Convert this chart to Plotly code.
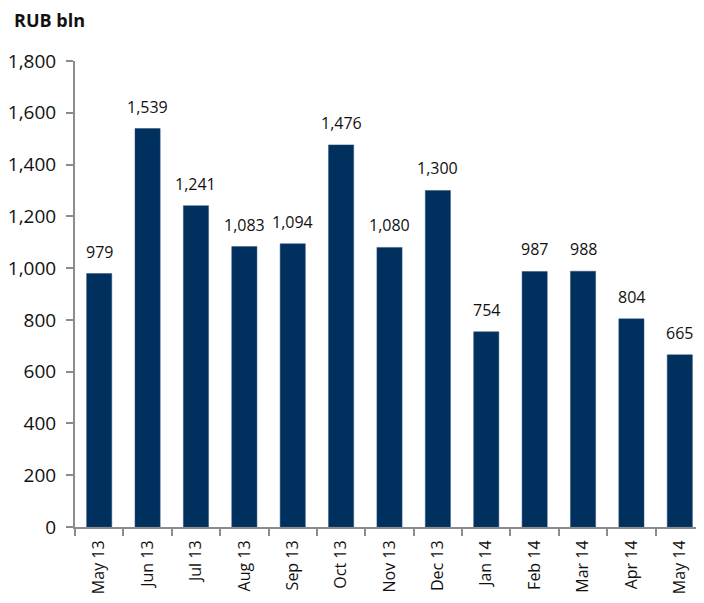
import plotly.graph_objects as go

categories = ["May 13", "Jun 13", "Jul 13", "Aug 13", "Sep 13", "Oct 13", "Nov 13",
              "Dec 13", "Jan 14", "Feb 14", "Mar 14", "Apr 14", "May 14"]
values = [979, 1539, 1241, 1083, 1094, 1476, 1080, 1300, 754, 987, 988, 804, 665]
y_ticks = [0, 200, 400, 600, 800, 1000, 1200, 1400, 1600, 1800]
y_tick_labels = ["0", "200", "400", "600", "800", "1,000", "1,200", "1,400", "1,600", "1,800"]
data_labels = [f"{v:,}" for v in values]

PLOT_W = 629
PLOT_H = 466

fig = go.Figure(go.Bar(
    x=categories, y=values,
    marker=dict(color="#00305e", line=dict(color="#2a4f78", width=0.5)),
    width=0.52,
    cliponaxis=False,
))

annotations = [dict(text="<b>RUB bln</b>", xref="paper", yref="paper",
                    x=-63 / PLOT_W, y=1 + 55 / PLOT_H, xanchor="left", yanchor="top",
                    showarrow=False,
                    font=dict(family="Open Sans", size=18, color="#111111"))]
for cat, val, lab in zip(categories, values, data_labels):
    annotations.append(dict(x=cat, y=val, xref="x", yref="y", text=lab,
                            showarrow=False, xanchor="center", yanchor="bottom",
                            yshift=9,
                            font=dict(family="Open Sans", size=16, color="#111111")))

fig.update_layout(
    width=696, height=595,
    margin=dict(l=67, r=0, t=53, b=76, autoexpand=False),
    plot_bgcolor="white", paper_bgcolor="white",
    showlegend=False,
    font=dict(family="Open Sans", color="#111111"),
    annotations=annotations,
)

fig.update_xaxes(
    automargin=False,
    showline=True, linecolor="#8c8c8c", linewidth=2,
    ticks="outside", ticklen=7, tickwidth=2, tickcolor="#8c8c8c",
    tickson="boundaries", tickangle=-90,
    ticklabelstandoff=5,
    tickfont=dict(family="Open Sans", size=16, color="#111111"),
    showgrid=False,
)
fig.update_yaxes(
    automargin=False,
    range=[0, 1800], tickvals=y_ticks, ticktext=y_tick_labels,
    showline=True, linecolor="#8c8c8c", linewidth=2,
    ticks="outside", ticklen=7, tickwidth=2, tickcolor="#8c8c8c",
    ticklabelstandoff=6,
    tickfont=dict(family="Open Sans", size=19, color="#111111"),
    showgrid=False, zeroline=False,
)

fig.write_html("out.html")
